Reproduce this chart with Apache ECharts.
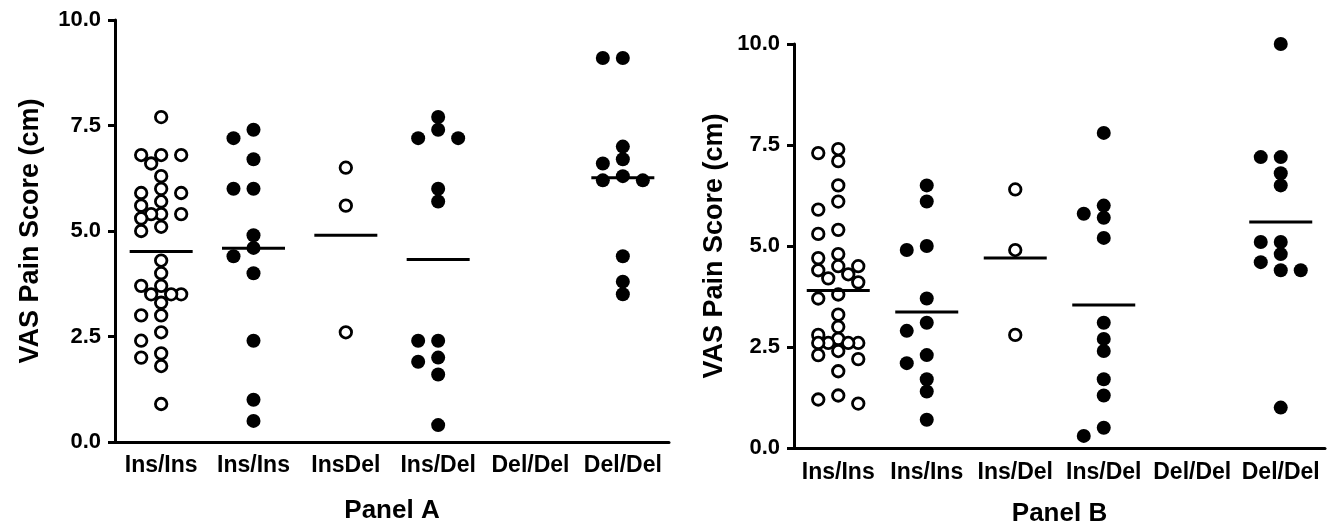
<!DOCTYPE html>
<html>
<head>
<meta charset="utf-8">
<script src="https://cdn.jsdelivr.net/npm/echarts@6/dist/echarts.min.js"></script>
<style>
  html, body { margin: 0; padding: 0; background: #fff; }
  #main { width: 1337px; height: 526px; }
</style>
</head>
<body>
<div id="main"></div>
<script>
// categories
var catsA = ['Ins/Ins', 'Ins/Ins', 'InsDel', 'Ins/Del', 'Del/Del', 'Del/Del'];
var catsB = ['Ins/Ins', 'Ins/Ins', 'Ins/Del', 'Ins/Del', 'Del/Del', 'Del/Del'];

// Panel A values (cm)
var aInsInsOpen = [7.7, 6.8, 6.8, 6.8, 6.6, 6.3, 6.0, 5.9, 5.9, 5.7, 5.6, 5.4, 5.4, 5.4, 5.3, 5.1, 5.0,
  4.3, 4.0, 3.7, 3.7, 3.5, 3.5, 3.5, 3.3, 3.0, 3.0, 2.6, 2.4, 2.1, 2.0, 1.8, 0.9];
var aInsInsFilled = [7.4, 7.2, 6.7, 6.0, 6.0, 4.9, 4.6, 4.4, 4.0, 2.4, 1.0, 0.5];
var aInsDelOpen = [6.5, 5.6, 2.6];
var aInsDelFilled = [7.7, 7.4, 7.2, 7.2, 6.0, 5.7, 2.4, 2.4, 2.0, 1.9, 1.6, 0.4];
var aDelDelOpen = [];
var aDelDelFilled = [9.1, 9.1, 7.0, 6.7, 6.6, 6.3, 6.2, 6.2, 4.4, 3.8, 3.5];

// Panel B values (cm)
var bInsInsOpen = [7.4, 7.3, 7.1, 6.5, 6.1, 5.9, 5.4, 5.3, 4.8, 4.7, 4.5, 4.5, 4.4, 4.3, 4.2, 4.1, 3.8,
  3.7, 3.3, 3.0, 2.8, 2.7, 2.6, 2.6, 2.6, 2.6, 2.4, 2.3, 2.2, 1.9, 1.3, 1.2, 1.1];
var bInsInsFilled = [6.5, 6.1, 5.0, 4.9, 3.7, 3.1, 2.9, 2.3, 2.1, 1.7, 1.4, 0.7];
var bInsDelOpen = [6.4, 4.9, 2.8];
var bInsDelFilled = [7.8, 6.0, 5.8, 5.7, 5.2, 3.1, 2.7, 2.4, 1.7, 1.3, 0.5, 0.3];
var bDelDelOpen = [];
var bDelDelFilled = [10.0, 7.2, 7.2, 6.8, 6.5, 5.1, 5.1, 4.8, 4.6, 4.4, 4.4, 1.0];

// y axis ticks
var yMin = 0, yMax = 10, yStep = 2.5;

var groupsA = [aInsInsOpen, aInsInsFilled, aInsDelOpen, aInsDelFilled, aDelDelOpen, aDelDelFilled];
var groupsB = [bInsInsOpen, bInsInsFilled, bInsDelOpen, bInsDelFilled, bDelDelOpen, bDelDelFilled];

var FONT = '"Liberation Sans", Arial, sans-serif';
var LANE = 10;       // horizontal spacing of swarm lanes, px
var MIN_DIST = 12;   // points closer than this get pushed sideways
var hollowCols = [0, 2];

// simple beeswarm, max two lanes each side; if nothing is free take the least crowded lane
function swarm(values, pxPerUnit) {
  var lanes = [0, -2, 2, -1, 1];
  var placed = [], offsets = [];
  var order = values.map(function(v, i) { return i; })
    .sort(function(a, b) { return values[b] - values[a]; });
  order.forEach(function(i) {
    var y = values[i] * pxPerUnit;
    var best = 0, bestD = -1;
    for (var k = 0; k < lanes.length; k++) {
      var dx = lanes[k] * LANE;
      var dmin = Infinity;
      placed.forEach(function(p) {
        var ddx = p[0] - dx, ddy = p[1] - y;
        dmin = Math.min(dmin, Math.sqrt(ddx * ddx + ddy * ddy));
      });
      if (dmin >= MIN_DIST) { best = dx; bestD = Infinity; break; }
      if (dmin > bestD) { bestD = dmin; best = dx; }
    }
    placed.push([best, y]);
    offsets[i] = best;
  });
  return offsets;
}

function mean(arr) {
  var s = 0;
  for (var i = 0; i < arr.length; i++) s += arr[i];
  return s / arr.length;
}

function panelSeries(groups, idx, pxPerUnit) {
  var open = [], filled = [], means = [];
  groups.forEach(function(vals, c) {
    if (!vals.length) return;
    var offs = swarm(vals, pxPerUnit);
    var target = hollowCols.indexOf(c) > -1 ? open : filled;
    vals.forEach(function(v, i) {
      target.push({ value: [c, v], symbolOffset: [offs[i], 0] });
    });
    means.push([c, mean(vals)]);
  });
  return [{
    type: 'scatter', xAxisIndex: idx, yAxisIndex: idx, clip: false,
    symbol: 'circle', symbolSize: 11.5, data: open,
    itemStyle: { color: '#fff', borderColor: '#000', borderWidth: 2.8, opacity: 1 }
  }, {
    type: 'scatter', xAxisIndex: idx, yAxisIndex: idx, clip: false,
    symbol: 'circle', symbolSize: 14, data: filled,
    itemStyle: { color: '#000', opacity: 1 }
  }, {
    type: 'scatter', xAxisIndex: idx, yAxisIndex: idx, clip: false, z: 5,
    symbol: 'rect', symbolSize: [63, 3], data: means,
    itemStyle: { color: '#000', opacity: 1 }
  }];
}

function xAxisFor(idx, cats, name, margin, nameGap) {
  return {
    type: 'category', gridIndex: idx, data: cats,
    name: name, nameLocation: 'middle', nameGap: nameGap,
    nameTextStyle: { color: '#000', fontFamily: FONT, fontWeight: 'bold', fontSize: 26 },
    axisLine: { lineStyle: { color: '#000', width: 3 } },
    axisTick: { alignWithLabel: true, length: 7, lineStyle: { color: '#000', width: 3 } },
    axisLabel: { interval: 0, margin: margin, color: '#000', fontFamily: FONT, fontWeight: 'bold', fontSize: 23 },
    splitLine: { show: false }
  };
}

function yAxisFor(idx, nameGap) {
  return {
    type: 'value', gridIndex: idx, min: yMin, max: yMax, interval: yStep,
    name: 'VAS Pain Score (cm)', nameLocation: 'middle', nameRotate: 90, nameGap: nameGap,
    nameTextStyle: { color: '#000', fontFamily: FONT, fontWeight: 'bold', fontSize: 27 },
    axisLine: { show: true, lineStyle: { color: '#000', width: 3 } },
    axisTick: { show: true, length: 7, lineStyle: { color: '#000', width: 3 } },
    axisLabel: {
      margin: 14, color: '#000', fontFamily: FONT, fontWeight: 'bold', fontSize: 22,
      formatter: function(v) { return v.toFixed(1); }
    },
    splitLine: { show: false }
  };
}

var chart = echarts.init(document.getElementById('main'));
var gridA = { left: 115, top: 20, width: 554, height: 422, containLabel: false, outerBoundsMode: 'none' };
var gridB = { left: 794, top: 44, width: 531, height: 404, containLabel: false, outerBoundsMode: 'none' };

chart.setOption({
  animation: false,
  backgroundColor: '#fff',
  grid: [gridA, gridB],
  xAxis: [xAxisFor(0, catsA, 'Panel A', 12, 56), xAxisFor(1, catsB, 'Panel B', 13, 53)],
  yAxis: [yAxisFor(0, 71), yAxisFor(1, 66)],
  series: panelSeries(groupsA, 0, gridA.height / (yMax - yMin))
    .concat(panelSeries(groupsB, 1, gridB.height / (yMax - yMin)))
});
</script>
</body>
</html>
